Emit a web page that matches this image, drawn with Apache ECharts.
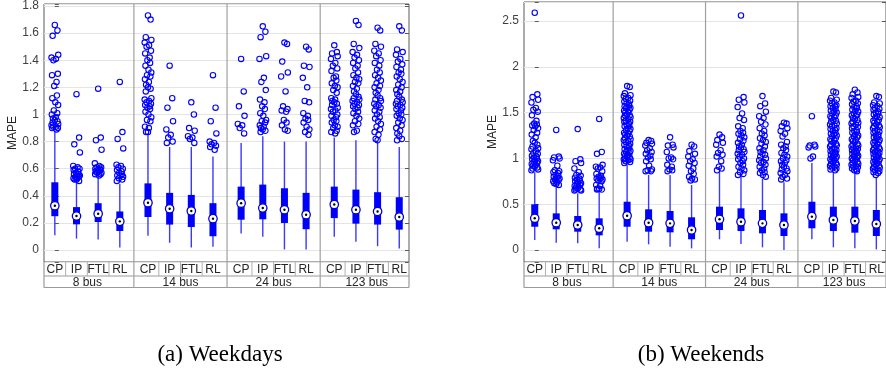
<!DOCTYPE html>
<html><head><meta charset="utf-8">
<script src="https://cdn.jsdelivr.net/npm/echarts@6/dist/echarts.min.js"></script>
<style>html,body{margin:0;padding:0;background:#fff;}#c{width:886px;height:375px;}</style>
</head><body><div id="c"></div>
<script>
// ---------- DATA ----------
const groups = ['8 bus', '14 bus', '24 bus', '123 bus'];
const methods = ['CP', 'IP', 'FTL', 'RL'];
const captions = ['(a) Weekdays', '(b) Weekends'];
const yAxisName = 'MAPE';

// box statistics: [lower whisker, Q1, median, Q3, upper whisker] ; order CP, IP, FTL, RL per group
const weekdayStats8 = [[0.11,0.25,0.327,0.50,0.87],[0.085,0.19,0.251,0.317,0.50],[0.078,0.207,0.268,0.346,0.54],[0.02,0.141,0.212,0.285,0.49]];
const weekdayStats14 = [[0.105,0.244,0.349,0.492,0.86],[0.054,0.188,0.305,0.422,0.76],[0.02,0.17,0.288,0.407,0.76],[0.025,0.102,0.232,0.346,0.69]];
const weekdayStats24 = [[0.122,0.224,0.346,0.468,0.79],[0.098,0.227,0.31,0.483,0.84],[0.005,0.2,0.298,0.456,0.80],[0.005,0.154,0.261,0.422,0.80]];
const weekdayStats123 = [[0.098,0.236,0.336,0.468,0.83],[0.061,0.195,0.298,0.446,0.81],[0.029,0.188,0.285,0.427,0.80],[0.012,0.151,0.244,0.39,0.76]];

const weekendStats8 = [[0.11,0.254,0.346,0.499,0.85],[0.08,0.226,0.298,0.40,0.69],[0.073,0.2,0.273,0.371,0.62],[0.018,0.16,0.237,0.346,0.64]];
const weekendStats14 = [[0.09,0.254,0.374,0.527,0.93],[0.062,0.2,0.298,0.444,0.82],[0.036,0.193,0.291,0.426,0.82],[0.018,0.117,0.218,0.357,0.71]];
const weekendStats24 = [[0.117,0.218,0.335,0.473,0.85],[0.066,0.207,0.309,0.455,0.80],[0.029,0.182,0.291,0.437,0.78],[0.0,0.153,0.273,0.40,0.74]];
const weekendStats123 = [[0.117,0.237,0.364,0.527,0.95],[0.029,0.207,0.328,0.473,0.85],[0.018,0.189,0.317,0.473,0.84],[0.007,0.153,0.284,0.437,0.79]];

// outliers per group: [CP, IP, FTL, RL]
const weekdayOut8 = [
  [1.66,1.62,1.58,1.44,1.42,1.41,1.40,1.30,1.29,1.24,1.21,1.14,1.12,1.09,1.07,1.03,1.01,1.00,0.98,0.97,0.96,0.95,0.94,0.93,0.92,0.91,0.91,0.90,0.90,0.89],
  [1.15,0.83,0.78,0.72,0.62,0.61,0.60,0.60,0.59,0.58,0.57,0.56,0.56,0.55,0.55,0.54,0.54,0.53,0.53,0.52,0.52,0.51],
  [1.19,0.83,0.81,0.74,0.64,0.62,0.61,0.61,0.60,0.60,0.59,0.59,0.58,0.58,0.57,0.57,0.56,0.56,0.55],
  [1.24,0.87,0.82,0.75,0.63,0.62,0.61,0.60,0.59,0.58,0.57,0.56,0.55,0.55,0.54,0.53,0.52,0.51]
];
const weekdayOut14 = [
  [1.73,1.70,1.57,1.55,1.53,1.51,1.50,1.47,1.45,1.42,1.40,1.38,1.36,1.33,1.31,1.29,1.28,1.26,1.24,1.22,1.20,1.19,1.17,1.12,1.11,1.10,1.09,1.08,1.07,1.06,1.05,1.04,1.02,1.00,0.98,0.96,0.95,0.91,0.90,0.87,0.87],
  [1.36,1.12,1.05,0.95,0.89,0.85,0.83,0.80,0.79],
  [1.09,1.00,0.90,0.88,0.84,0.83,0.82,0.79],
  [1.29,1.05,0.95,0.86,0.80,0.79,0.78,0.77,0.76,0.74]
];
const weekdayOut24 = [
  [1.41,1.17,1.06,0.99,0.93,0.92,0.90,0.86],
  [1.65,1.61,1.57,1.43,1.41,1.27,1.24,1.18,1.11,1.09,1.06,1.04,1.01,0.99,0.96,0.95,0.94,0.92,0.91,0.90,0.89,0.88,0.87],
  [1.53,1.52,1.39,1.31,1.28,1.17,1.06,1.04,1.03,1.02,0.96,0.94,0.92,0.89,0.88],
  [1.50,1.48,1.36,1.35,1.27,1.20,1.10,1.09,1.01,0.99,0.97,0.96,0.94,0.91,0.89,0.87,0.85]
];
const weekdayOut123 = [
  [1.51,1.46,1.45,1.43,1.41,1.38,1.36,1.34,1.32,1.28,1.27,1.25,1.23,1.21,1.20,1.18,1.16,1.12,1.11,1.10,1.09,1.08,1.07,1.05,1.04,1.03,1.02,1.00,0.99,0.98,0.96,0.95,0.94,0.92,0.91,0.90,0.88,0.87,0.86],
  [1.69,1.66,1.52,1.49,1.46,1.44,1.42,1.40,1.38,1.36,1.34,1.31,1.29,1.27,1.26,1.24,1.23,1.21,1.19,1.17,1.15,1.13,1.12,1.11,1.10,1.09,1.08,1.07,1.06,1.05,1.04,1.02,1.01,0.99,0.97,0.95,0.93,0.92,0.88,0.87],
  [1.64,1.62,1.52,1.50,1.47,1.45,1.43,1.40,1.38,1.36,1.33,1.31,1.29,1.27,1.25,1.23,1.21,1.20,1.18,1.16,1.14,1.12,1.11,1.10,1.08,1.07,1.06,1.05,1.03,1.02,1.00,0.98,0.97,0.95,0.93,0.91,0.89,0.87,0.85,0.82,0.81],
  [1.65,1.62,1.48,1.46,1.44,1.41,1.39,1.37,1.35,1.33,1.31,1.30,1.28,1.26,1.24,1.22,1.20,1.18,1.17,1.15,1.13,1.11,1.10,1.09,1.08,1.07,1.06,1.05,1.04,1.03,1.01,1.00,0.99,0.97,0.96,0.94,0.92,0.90,0.88,0.86,0.84,0.82,0.81]
];

const weekendOut8 = [
  [2.59,1.70,1.67,1.64,1.61,1.55,1.53,1.51,1.47,1.41,1.38,1.37,1.36,1.35,1.33,1.31,1.28,1.26,1.23,1.19,1.17,1.15,1.13,1.11,1.10,1.08,1.06,1.05,1.03,1.02,1.01,1.00,0.99,0.98,0.97,0.96,0.95,0.94,0.93,0.92,0.91,0.90,0.89,0.88,0.87],
  [1.31,1.02,1.01,1.00,0.98,0.92,0.87,0.86,0.85,0.84,0.82,0.81,0.80,0.79,0.78,0.77,0.76,0.75,0.74,0.73,0.72,0.71],
  [1.32,0.99,0.97,0.95,0.89,0.85,0.82,0.81,0.79,0.78,0.77,0.76,0.75,0.74,0.73,0.72,0.71,0.70,0.69,0.68,0.67,0.66,0.66,0.65,0.65],
  [1.43,1.07,1.05,0.93,0.91,0.90,0.89,0.86,0.83,0.81,0.80,0.79,0.78,0.78,0.77,0.76,0.75,0.71,0.70,0.67,0.67,0.66,0.66]
];
const weekendOut14 = [
  [1.79,1.78,1.71,1.69,1.68,1.66,1.65,1.63,1.62,1.60,1.60,1.58,1.57,1.56,1.55,1.55,1.53,1.52,1.51,1.50,1.48,1.47,1.47,1.45,1.44,1.43,1.41,1.40,1.40,1.38,1.37,1.36,1.35,1.33,1.32,1.31,1.30,1.28,1.27,1.26,1.25,1.24,1.22,1.21,1.20,1.19,1.18,1.16,1.15,1.14,1.13,1.12,1.10,1.09,1.08,1.07,1.06,1.05,1.04,1.03,1.02,1.01,1.00,0.99,0.99,0.98,0.97,0.96,0.95],
  [1.20,1.19,1.17,1.16,1.14,1.11,1.09,1.07,1.05,1.03,1.01,0.99,0.97,0.92,0.88,0.87,0.86,0.86],
  [1.23,1.15,1.14,1.12,1.07,1.01,1.00,0.99,0.93,0.91,0.88,0.87,0.86],
  [1.15,1.13,1.08,1.05,1.02,0.99,0.97,0.95,0.92,0.89,0.86,0.83,0.80,0.78,0.77,0.76]
];
const weekendOut24 = [
  [1.26,1.23,1.20,1.17,1.15,1.09,1.06,1.04,1.02,0.97,0.91,0.89,0.87],
  [2.56,1.67,1.64,1.61,1.56,1.49,1.44,1.42,1.35,1.33,1.30,1.28,1.27,1.25,1.23,1.21,1.19,1.17,1.15,1.13,1.12,1.10,1.09,1.07,1.05,1.04,1.02,1.00,0.99,0.97,0.95,0.93,0.91,0.89,0.87,0.85,0.83,0.82],
  [1.68,1.60,1.57,1.51,1.46,1.44,1.40,1.37,1.33,1.30,1.27,1.25,1.22,1.20,1.18,1.16,1.13,1.11,1.09,1.07,1.05,1.04,1.02,1.00,0.98,0.96,0.95,0.93,0.91,0.89,0.87,0.85,0.84,0.82,0.80],
  [1.39,1.38,1.35,1.33,1.30,1.27,1.24,1.18,1.15,1.13,1.11,1.09,1.06,1.04,1.02,1.00,0.98,0.97,0.95,0.93,0.91,0.89,0.88,0.86,0.84,0.82,0.80,0.78,0.77]
];
const weekendOut123 = [
  [1.46,1.15,1.14,1.13,1.12,1.02,1.00],
  [1.73,1.72,1.66,1.64,1.63,1.61,1.60,1.58,1.57,1.57,1.55,1.54,1.52,1.51,1.50,1.49,1.47,1.46,1.45,1.44,1.42,1.41,1.40,1.38,1.37,1.36,1.35,1.33,1.32,1.31,1.30,1.28,1.27,1.26,1.25,1.24,1.22,1.21,1.20,1.19,1.17,1.16,1.15,1.14,1.13,1.11,1.10,1.09,1.08,1.07,1.06,1.05,1.04,1.03,1.02,1.01,1.00,0.99,0.98,0.97,0.96,0.95,0.94,0.93,0.92,0.91,0.90,0.89,0.88,0.87],
  [1.75,1.72,1.70,1.67,1.66,1.63,1.62,1.60,1.59,1.57,1.56,1.55,1.53,1.52,1.51,1.49,1.48,1.47,1.46,1.44,1.43,1.42,1.40,1.39,1.38,1.37,1.35,1.34,1.33,1.31,1.30,1.29,1.28,1.26,1.25,1.24,1.23,1.21,1.20,1.19,1.18,1.16,1.15,1.14,1.13,1.12,1.11,1.10,1.09,1.08,1.07,1.06,1.05,1.04,1.03,1.02,1.01,1.00,0.99,0.98,0.97,0.96,0.95,0.94,0.93,0.92,0.91,0.90,0.89,0.88,0.87,0.86],
  [1.68,1.67,1.61,1.60,1.58,1.57,1.55,1.54,1.53,1.51,1.50,1.49,1.48,1.46,1.45,1.44,1.42,1.41,1.40,1.39,1.37,1.36,1.35,1.34,1.33,1.31,1.30,1.29,1.28,1.26,1.25,1.24,1.23,1.22,1.20,1.19,1.18,1.17,1.16,1.15,1.13,1.12,1.11,1.10,1.09,1.08,1.07,1.06,1.05,1.04,1.03,1.02,1.01,1.00,0.99,0.98,0.97,0.96,0.95,0.94,0.93,0.92,0.91,0.90,0.89,0.88,0.87,0.86,0.85,0.84,0.82]
];

// ---------- LAYOUT / STYLE ----------
const FONT = '"Liberation Sans", Arial, sans-serif';
const BLUE = '#0000ff';
const GROUP_STEP = 4.3;
const X_MIN = -0.5, X_MAX = 16.35;
const JIT = [0, 2.6, -2.2, 3.4, -3.3, 1.1, -1.4, 3.0, -2.8, 1.7, -0.6, 2.1, -2.5, 0.5, 3.3, -1.0, 2.4, -3.0, 0.9, -1.9];
const pos = (g, k) => g * GROUP_STEP + k;

function buildPanel(idx, statsByGroup, outByGroup, yMin, yMax, step, left) {
  const boxData = [], outData = [], cellData = [], groupData = [];
  statsByGroup.forEach((gs, g) => {
    gs.forEach((s, k) => {
      boxData.push([pos(g, k)].concat(s));
      cellData.push([pos(g, k), k, g]);
      outByGroup[g][k].forEach((v, i) => outData.push([pos(g, k), v, i]));
    });
    groupData.push([pos(g, 1.5), g]);
  });
  const xi = idx, yi = idx * 2;
  const isTick = v => Math.abs(v / step - Math.round(v / step)) < 1e-6;
  const grid = { left: left, top: 2, width: 365, height: 260, show: true, borderColor: '#5a5a5a', borderWidth: 1, backgroundColor: 'transparent' };
  const xAxis = { gridIndex: idx, type: 'value', min: X_MIN, max: X_MAX, show: false };
  const yCommon = { gridIndex: idx, type: 'value', min: yMin, max: yMax, minInterval: step, maxInterval: step, splitNumber: Math.round((yMax - yMin) / step) };
  const yLeft = Object.assign({}, yCommon, {
    position: 'left',
    name: yAxisName, nameLocation: 'middle', nameGap: 25,
    nameTextStyle: { fontSize: 12, color: '#262626', fontFamily: FONT },
    axisLine: { show: false },
    axisTick: { inside: true, length: 4, lineStyle: { color: '#5a5a5a' } },
    axisLabel: { margin: 5, fontSize: 12, color: '#404040', fontFamily: FONT, showMinLabel: true, showMaxLabel: true,
      formatter: v => isTick(v) ? String(+(+v).toFixed(2)) : '' },
    splitLine: { show: true, lineStyle: { color: '#e4e4e4', width: 1 } }
  });
  const yRight = Object.assign({}, yCommon, {
    position: 'right',
    axisLine: { show: false },
    axisTick: { inside: true, length: 4, lineStyle: { color: '#5a5a5a' } },
    axisLabel: { show: false },
    splitLine: { show: false }
  });
  const series = [
    { // frame: group dividers + label table
      type: 'custom', xAxisIndex: xi, yAxisIndex: yi, z: 1, silent: true,
      data: groupData,
      renderItem(params, api) {
        const g = api.value(1);
        const bot = api.coord([X_MIN, yMin])[1];
        const top = api.coord([X_MIN, yMax])[1];
        const xl = api.coord([X_MIN, yMin])[0], xr = api.coord([X_MAX, yMin])[0];
        const c = api.coord([api.value(0), yMin]);
        const ch = [];
        const lc = '#9a9a9a';
        ch.push({ type: 'text', x: c[0], y: bot + 20.5, style: { text: groups[g], font: '12px ' + FONT, fill: '#262626', align: 'center', verticalAlign: 'middle' } });
        if (g > 0) {
          const dx = api.coord([g * GROUP_STEP - 0.65, yMin])[0];
          ch.push({ type: 'line', shape: { x1: dx, y1: top, x2: dx, y2: bot + 25.5 }, style: { stroke: '#a0a0a0', lineWidth: 1.2 } });
        } else {
          ch.push({ type: 'line', shape: { x1: xl, y1: bot + 14, x2: xr, y2: bot + 14 }, style: { stroke: lc, lineWidth: 1 } });
          ch.push({ type: 'line', shape: { x1: xl, y1: bot + 25.5, x2: xr, y2: bot + 25.5 }, style: { stroke: lc, lineWidth: 1.2 } });
          ch.push({ type: 'line', shape: { x1: xl, y1: bot, x2: xl, y2: bot + 25.5 }, style: { stroke: lc, lineWidth: 1.2 } });
          ch.push({ type: 'line', shape: { x1: xr, y1: bot, x2: xr, y2: bot + 25.5 }, style: { stroke: lc, lineWidth: 1.2 } });
        }
        return { type: 'group', children: ch };
      }
    },
    { // method label cells
      type: 'custom', xAxisIndex: xi, yAxisIndex: yi, z: 1, silent: true,
      data: cellData,
      renderItem(params, api) {
        const k = api.value(1);
        const c = api.coord([api.value(0), yMin]);
        const ch = [{ type: 'text', x: c[0], y: c[1] + 7.5, style: { text: methods[k], font: '12px ' + FONT, fill: '#262626', align: 'center', verticalAlign: 'middle' } }];
        if (k < 3) {
          const bx = api.coord([api.value(0) + 0.5, yMin])[0];
          ch.push({ type: 'line', shape: { x1: bx, y1: c[1], x2: bx, y2: c[1] + 14 }, style: { stroke: '#b0b0b0', lineWidth: 1 } });
        }
        return { type: 'group', children: ch };
      }
    },
    { // boxes
      type: 'custom', xAxisIndex: xi, yAxisIndex: yi, z: 3, silent: true,
      data: boxData,
      encode: { x: 0, y: [1, 2, 3, 4, 5] },
      renderItem(params, api) {
        const x = api.value(0);
        const lo = api.coord([x, api.value(1)]), q1 = api.coord([x, api.value(2)]), md = api.coord([x, api.value(3)]),
              q3 = api.coord([x, api.value(4)]), hi = api.coord([x, api.value(5)]);
        const cx = lo[0];
        return { type: 'group', children: [
          { type: 'line', shape: { x1: cx, y1: lo[1], x2: cx, y2: hi[1] }, style: { stroke: '#3a3aff', lineWidth: 1.4 } },
          { type: 'rect', shape: { x: cx - 3.5, y: q3[1], width: 7, height: q1[1] - q3[1] }, style: { fill: BLUE } },
          { type: 'circle', shape: { cx: cx, cy: md[1], r: 4.2 }, style: { fill: '#ffffff', stroke: '#0000d0', lineWidth: 1.3 } },
          { type: 'circle', shape: { cx: cx, cy: md[1], r: 1.2 }, style: { fill: '#000000' } }
        ] };
      }
    },
    { // outliers
      type: 'custom', xAxisIndex: xi, yAxisIndex: yi, z: 4, silent: true,
      data: outData,
      encode: { x: 0, y: 1 },
      renderItem(params, api) {
        const p = api.coord([api.value(0), api.value(1)]);
        const j = JIT[api.value(2) % JIT.length];
        return { type: 'circle', shape: { cx: p[0] + j, cy: p[1], r: 2.7 }, style: { fill: 'none', stroke: BLUE, lineWidth: 1.1 } };
      }
    }
  ];
  return { grid, xAxis, yAxes: [yLeft, yRight], series };
}

const pA = buildPanel(0, [weekdayStats8, weekdayStats14, weekdayStats24, weekdayStats123],
  [weekdayOut8, weekdayOut14, weekdayOut24, weekdayOut123], -0.0878, 1.8146, 0.2, 44);
const pB = buildPanel(1, [weekendStats8, weekendStats14, weekendStats24, weekendStats123],
  [weekendOut8, weekendOut14, weekendOut24, weekendOut123], -0.131, 2.7074, 0.5, 524);

const CAP_FONT = '23px "Liberation Serif", "DejaVu Serif", serif';
const option = {
  animation: false,
  backgroundColor: '#ffffff',
  grid: [pA.grid, pB.grid],
  xAxis: [pA.xAxis, pB.xAxis],
  yAxis: pA.yAxes.concat(pB.yAxes),
  series: pA.series.concat(pB.series),
  graphic: [
    { type: 'text', x: 220, y: 355, style: { text: captions[0], font: CAP_FONT, fill: '#000', align: 'center', verticalAlign: 'middle' } },
    { type: 'text', x: 701, y: 355, style: { text: captions[1], font: CAP_FONT, fill: '#000', align: 'center', verticalAlign: 'middle' } }
  ]
};
const chart = echarts.init(document.getElementById('c'), null, { renderer: 'canvas' });
chart.setOption(option);
</script>
</body></html>
